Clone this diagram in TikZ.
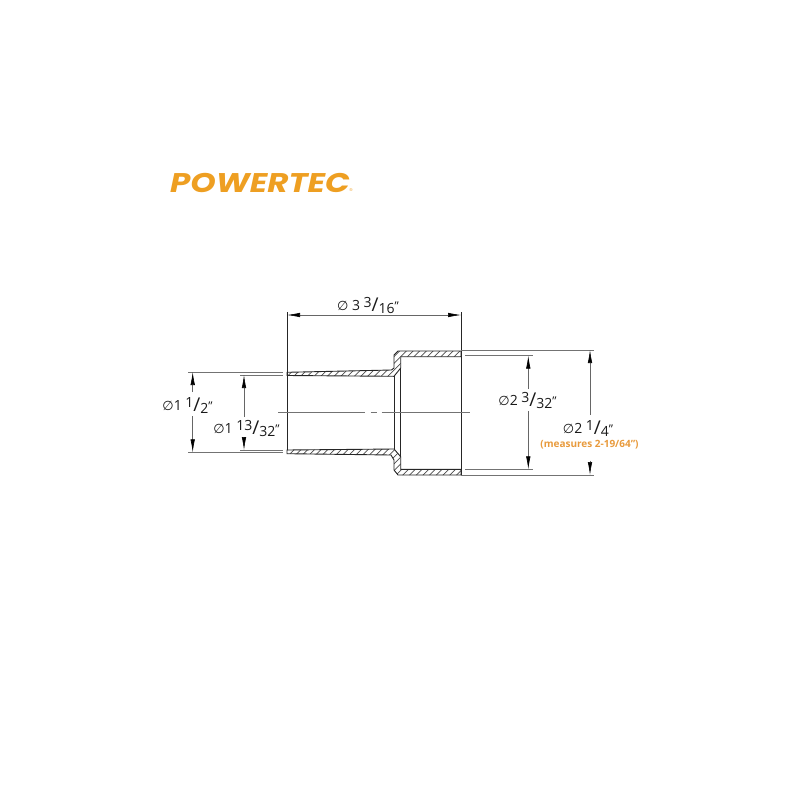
\documentclass[tikz,border=0pt]{standalone}
\usepackage{fontspec}
\setmainfont{Open Sans}
\newfontfamily\symfont{DejaVu Sans}
\newfontfamily\logofont{Poppins}
\usetikzlibrary{arrows.meta}
\definecolor{logoorange}{HTML}{EE9F22}
\definecolor{noteorange}{HTML}{E89A3C}
\newcommand{\dia}{{\symfont\fontsize{13}{14}\selectfont\char"2205}}
\newcommand{\fracpart}[1]{{\fontsize{14}{14}\selectfont #1}}
\newcommand{\dimfrac}[2]{\raisebox{3pt}{\fracpart{#1}}\raisebox{-1pt}{\fontsize{19}{19}\selectfont /}\raisebox{-3pt}{\fracpart{#2}}\raisebox{0pt}{\fontsize{12}{12}\selectfont "}}
\newcommand{\upperwall}{(461,351) -- (398,351) -- (394,355) -- (394,368) -- (391.5,370) -- (287,372.3) -- (287,375.5) -- (394,376.3) -- (400.7,368) -- (400.7,356.7) -- (461,356.7) -- cycle}
\newcommand{\lowerwall}{(461,475) -- (398,475) -- (394,470) -- (394,460) -- (391,455) -- (287,453.7) -- (287,450) -- (394,449) -- (400.7,456.7) -- (400.7,469.3) -- (461,469.3) -- cycle}
\tikzset{
  >={Latex[length=13,width=4.5,black]},
  wall/.style={line width=.9,draw=black!85},
  hatch/.style={line width=.7,black!70},
  guide/.style={line width=.6,black!55},
  dimline/.style={line width=.6,black!60},
  dimlabel/.style={inner sep=0,font=\fontsize{14}{16}\selectfont,black!90},
}
\begin{document}
\begin{tikzpicture}[x=1pt,y=-1pt]
\useasboundingbox (0,0) rectangle (800,800);
% logo
\node[inner sep=0,text=logoorange,xscale=1.62,yscale=1.35,font=\logofont\bfseries\itshape\fontsize{20}{20}\selectfont] (logo) at (260,182.5) {POWERTEC};
\node[inner sep=0,text=logoorange,font=\fontsize{4}{4}\selectfont] (regmark) at (351,190.5) {®};
% part section
\foreach \w in {\upperwall,\lowerwall} {
\begin{scope}
\clip \w;
\foreach \x in {280,286.7,...,620} {
\draw[hatch] (\x-130,480) -- (\x,350);
}
\end{scope}
\draw[wall] \w;
}
\coordinate (wallA) at (394,376.3);
\coordinate (wallB) at (394,449);
\coordinate (wallC) at (400.7,368);
\coordinate (wallD) at (400.7,456.7);
\draw[wall] (wallA) -- (wallB);
\draw[wall] (wallC) -- (wallD);
% extension lines
\coordinate (extLtop) at (287,312);
\coordinate (extLbot) at (287,450);
\coordinate (extRtop) at (461,312);
\coordinate (extRbot) at (461,475);
\draw[wall] (extLtop) -- (extLbot);
\draw[wall] (extRtop) -- (extRbot);
\coordinate (cenA) at (278,412.3);
\coordinate (cenB) at (365,412.3);
\coordinate (cenC) at (370.7,412.3);
\coordinate (cenD) at (377,412.3);
\coordinate (cenE) at (381.7,412.3);
\coordinate (cenF) at (470,412.3);
\draw[guide] (cenA) -- (cenB);
\draw[guide] (cenC) -- (cenD);
\draw[guide] (cenE) -- (cenF);
\foreach \a/\b/\ya/\yb in {188/283/372/372,188/283/452.3/452.3,240/283/375/375,240/283/450/450,465/533/355.7/355.7,465/533/469.3/469.3,461/594/350/350,461/594/475/475} {
\draw[guide] (\a,\ya) -- (\b,\yb);
}
% dimensions
\coordinate (topA) at (287,315);
\coordinate (topB) at (461,315);
\draw[dimline,<->] (topA) -- (topB);
\node[dimlabel] (dimTop) at (368,305) {\dia\ 3 \dimfrac{3}{16}};
\node[dimlabel] (dimA) at (187.5,405) {\dia 1 \dimfrac{1}{2}};
\coordinate (aTop) at (192.7,372);
\coordinate (aBot) at (192.7,452.3);
\coordinate (aGapA) at (192.7,392);
\coordinate (aGapB) at (192.7,416);
\draw[dimline,->] (aGapA) -- (aTop);
\draw[dimline,->] (aGapB) -- (aBot);
\node[dimlabel] (dimB) at (246.5,428) {\dia 1 \dimfrac{13}{32}};
\coordinate (bTop) at (244,375);
\coordinate (bBot) at (244,450);
\coordinate (bGapA) at (244,417);
\coordinate (bGapB) at (244,439);
\draw[dimline,->] (bGapA) -- (bTop);
\draw[dimline,->] (bGapB) -- (bBot);
\node[dimlabel] (dimC) at (527.5,400) {\dia 2 \dimfrac{3}{32}};
\coordinate (cTop) at (528.3,355.7);
\coordinate (cBot) at (528.3,469.3);
\coordinate (cGapA) at (528.3,389);
\coordinate (cGapB) at (528.3,411);
\draw[dimline,->] (cGapA) -- (cTop);
\draw[dimline,->] (cGapB) -- (cBot);
\node[dimlabel] (dimD) at (588,428) {\dia 2 \dimfrac{1}{4}};
\node[inner sep=0,text=noteorange,font=\fontsize{10}{12}\selectfont\bfseries] (note) at (589.5,445) {(measures 2-19/64")};
\coordinate (dTop) at (590,350);
\coordinate (dBot) at (590,475);
\coordinate (dGapA) at (590,415);
\coordinate (dGapB) at (590,460.7);
\draw[dimline,->] (dGapA) -- (dTop);
\draw[dimline,->] (dGapB) -- (dBot);
\end{tikzpicture}
\end{document}
